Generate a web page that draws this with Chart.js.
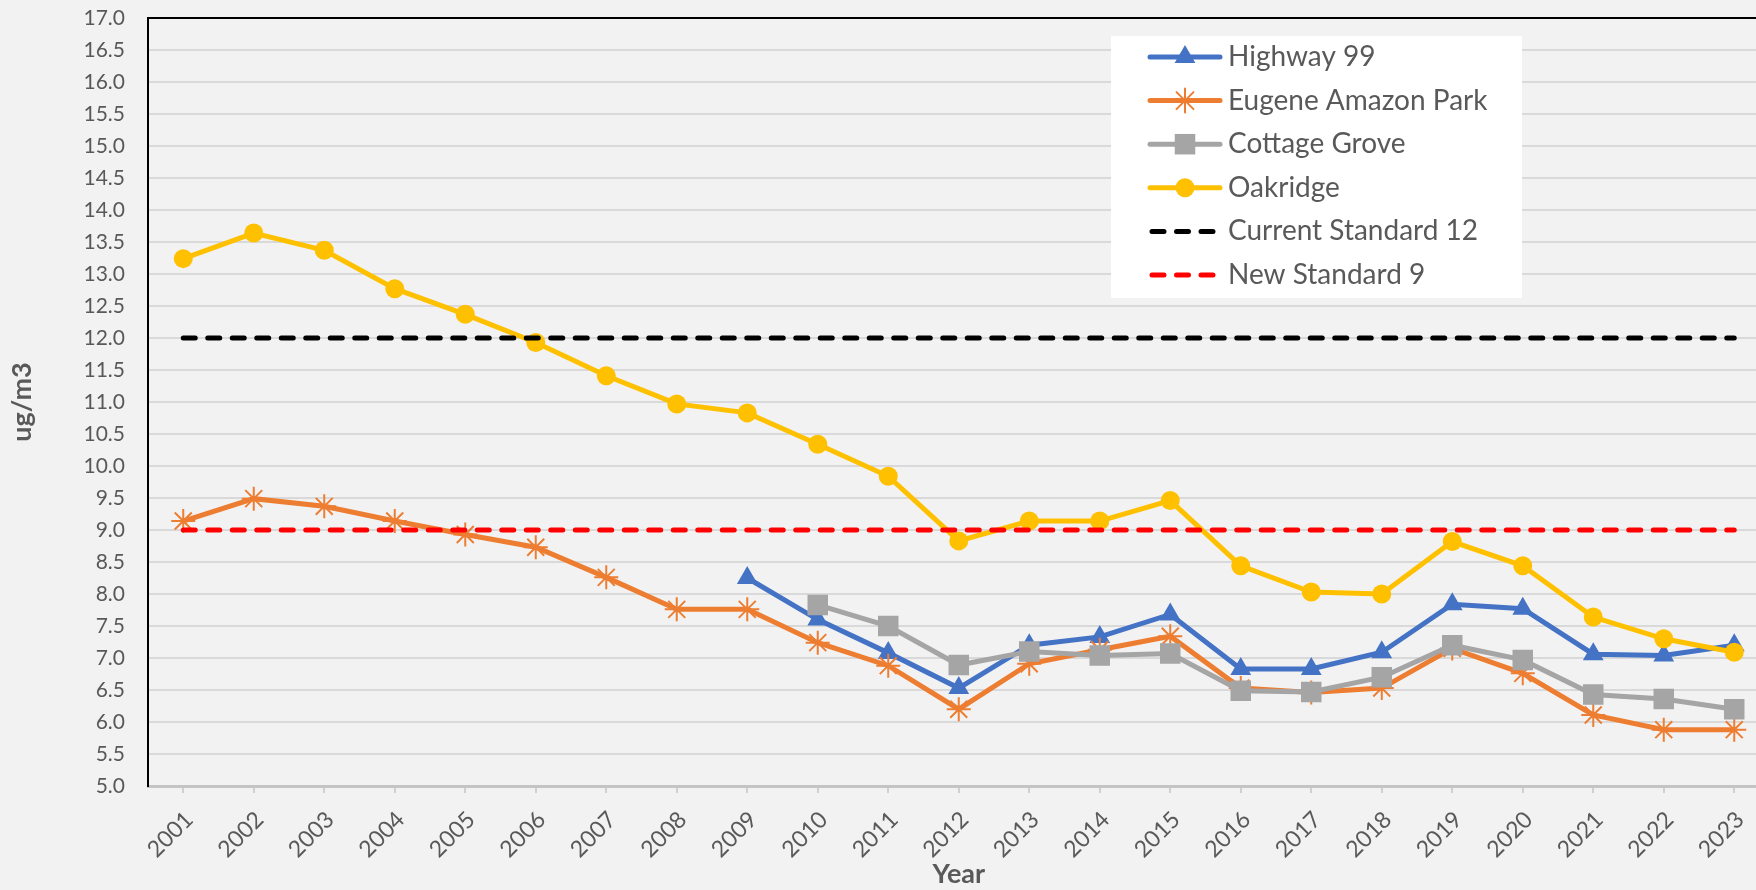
<!DOCTYPE html>
<html>
<head>
<meta charset="utf-8">
<title>PM2.5 - Lane County</title>
<script src="https://cdn.jsdelivr.net/npm/chart.js@4.4.1/dist/chart.umd.min.js"></script>
<style>
    html, body { margin: 0; padding: 0; background: #f2f2f2; overflow: hidden; }
    #caixa { width: 1756px; height: 890px; overflow: hidden; }
</style>
</head>
<body>
<div id="caixa"><canvas id="grafico" width="1784" height="890"></canvas></div>
<script>
    // dados (media anual, ug/m3)
    const anos = ['2001', '2002', '2003', '2004', '2005', '2006', '2007', '2008', '2009', '2010', '2011', '2012',
        '2013', '2014', '2015', '2016', '2017', '2018', '2019', '2020', '2021', '2022', '2023'];

    const highway99 = [null, null, null, null, null, null, null, null, 8.25, 7.6, 7.08, 6.53,
        7.2, 7.33, 7.68, 6.83, 6.83, 7.09, 7.84, 7.77, 7.06, 7.04, 7.2];
    const eugeneAmazonPark = [9.14, 9.49, 9.37, 9.14, 8.93, 8.73, 8.26, 7.76, 7.76, 7.24, 6.88, 6.2,
        6.91, 7.13, 7.34, 6.53, 6.46, 6.53, 7.15, 6.76, 6.11, 5.88, 5.88];
    const cottageGrove = [null, null, null, null, null, null, null, null, null, 7.83, 7.5, 6.89,
        7.1, 7.04, 7.07, 6.49, 6.47, 6.7, 7.2, 6.97, 6.43, 6.36, 6.2];
    const oakridge = [13.24, 13.64, 13.37, 12.77, 12.37, 11.93, 11.41, 10.97, 10.83, 10.34, 9.84, 8.83,
        9.14, 9.14, 9.46, 8.44, 8.03, 8.0, 8.82, 8.44, 7.64, 7.3, 7.09];
    const padraoAtual = [12, 12, 12, 12, 12, 12, 12, 12, 12, 12, 12, 12, 12, 12, 12, 12, 12, 12, 12, 12, 12, 12, 12];
    const padraoNovo = [9, 9, 9, 9, 9, 9, 9, 9, 9, 9, 9, 9, 9, 9, 9, 9, 9, 9, 9, 9, 9, 9, 9];

    const fonte = "Lato, 'Open Sans', sans-serif";
    const corTexto = '#595959';

    // legenda no estilo do Excel, desenhada por cima da area do grafico
    const legendaExcel = {
        id: 'legendaExcel',
        afterDraw(chart) {
            const ctx = chart.ctx;
            ctx.save();
            ctx.fillStyle = '#ffffff';
            ctx.fillRect(1111, 36, 411, 262);

            chart.data.datasets.forEach(function (ds, i) {
                let y = 57 + i * 43.6;

                ctx.beginPath();
                ctx.strokeStyle = ds.borderColor;
                ctx.lineWidth = ds.borderWidth;
                ctx.lineCap = 'round';
                ctx.setLineDash(ds.borderDash || []);
                if (ds.borderDash) {
                    ctx.moveTo(1152, y);
                    ctx.lineTo(1218, y);
                } else {
                    ctx.moveTo(1150, y);
                    ctx.lineTo(1220, y);
                }
                ctx.stroke();
                ctx.setLineDash([]);

                if (ds.pointRadius > 0 && Chart.helpers && Chart.helpers.drawPoint) {
                    ctx.fillStyle = ds.pointBackgroundColor;
                    ctx.strokeStyle = ds.pointBorderColor;
                    ctx.lineWidth = ds.pointBorderWidth;
                    Chart.helpers.drawPoint(ctx, {
                        pointStyle: ds.pointStyle,
                        radius: ds.pointRadius,
                        borderWidth: ds.pointBorderWidth,
                        rotation: 0
                    }, 1185, y);
                }

                ctx.fillStyle = corTexto;
                ctx.font = '28px ' + fonte;
                ctx.textBaseline = 'middle';
                ctx.textAlign = 'left';
                ctx.fillText(ds.label, 1228, y);
            });
            ctx.restore();
        }
    };

    function serie(label, dados, cor, estilo, raio, ordem) {
        return {
            label: label,
            data: dados,
            borderColor: cor,
            backgroundColor: cor,
            borderWidth: 5,
            tension: 0,
            pointStyle: estilo,
            pointRadius: raio,
            pointHoverRadius: raio,
            pointBackgroundColor: cor,
            pointBorderColor: cor,
            pointBorderWidth: estilo === 'star' ? 2 : 0,
            order: ordem
        };
    }

    function padrao(label, dados, cor, ordem) {
        return {
            label: label,
            data: dados,
            borderColor: cor,
            backgroundColor: cor,
            borderWidth: 5,
            borderDash: [12, 12.5],
            borderCapStyle: 'round',
            pointRadius: 0,
            order: ordem
        };
    }

    const dados = {
        labels: anos,
        datasets: [
            serie('Highway 99', highway99, '#4472C4', 'triangle', 12, 6),
            serie('Eugene Amazon Park', eugeneAmazonPark, '#ED7D31', 'star', 12, 5),
            serie('Cottage Grove', cottageGrove, '#A5A5A5', 'rect', 14.5, 4),
            serie('Oakridge', oakridge, '#FFC000', 'circle', 9.5, 3),
            padrao('Current Standard 12', padraoAtual, '#000000', 2),
            padrao('New Standard 9', padraoNovo, '#FF0000', 1)
        ]
    };

    const config = {
        type: 'line',
        data: dados,
        plugins: [legendaExcel],
        options: {
            responsive: false,
            animation: false,
            events: [],
            layout: { padding: { top: 18, right: 0, left: 0, bottom: 0 } },
            plugins: {
                legend: { display: false },
                tooltip: { enabled: false }
            },
            scales: {
                x: {
                    offset: true,
                    grid: { drawOnChartArea: false, drawTicks: true, tickLength: 7, color: '#d0d0d0', lineWidth: 2 },
                    border: { display: true, color: '#c4c4c4', width: 3 },
                    ticks: {
                        color: corTexto,
                        font: { family: fonte, size: 23 },
                        minRotation: 45,
                        maxRotation: 45,
                        autoSkip: false,
                        padding: 13,
                        labelOffset: 6
                    },
                    title: {
                        display: true,
                        text: 'Year',
                        color: corTexto,
                        font: { family: fonte, size: 27, weight: 'bold' },
                        padding: { top: 0, bottom: 0 }
                    },
                    afterFit(scale) { scale.height = 104; }
                },
                y: {
                    min: 5,
                    max: 17,
                    grid: {
                        color: ctx => (ctx.tick && ctx.tick.value === 17) ? '#000000' : '#d9d9d9',
                        lineWidth: 2,
                        drawTicks: false
                    },
                    border: { display: true, color: '#000000', width: 2 },
                    ticks: {
                        stepSize: 0.5,
                        color: corTexto,
                        font: { family: fonte, size: 21 },
                        padding: 23,
                        callback: v => Number(v).toFixed(1)
                    },
                    title: {
                        display: true,
                        text: 'ug/m3',
                        color: corTexto,
                        font: { family: fonte, size: 27, weight: 'bold' },
                        padding: { top: 6, bottom: 0 }
                    },
                    afterFit(scale) {
                        scale.width = 148;
                        // o espaco de cima fica por conta do layout.padding
                        scale.paddingTop = 0;
                        scale.paddingBottom = 0;
                    }
                }
            }
        }
    };

    let meuGrafico = new Chart(document.getElementById('grafico'), config);
</script>
</body>
</html>
